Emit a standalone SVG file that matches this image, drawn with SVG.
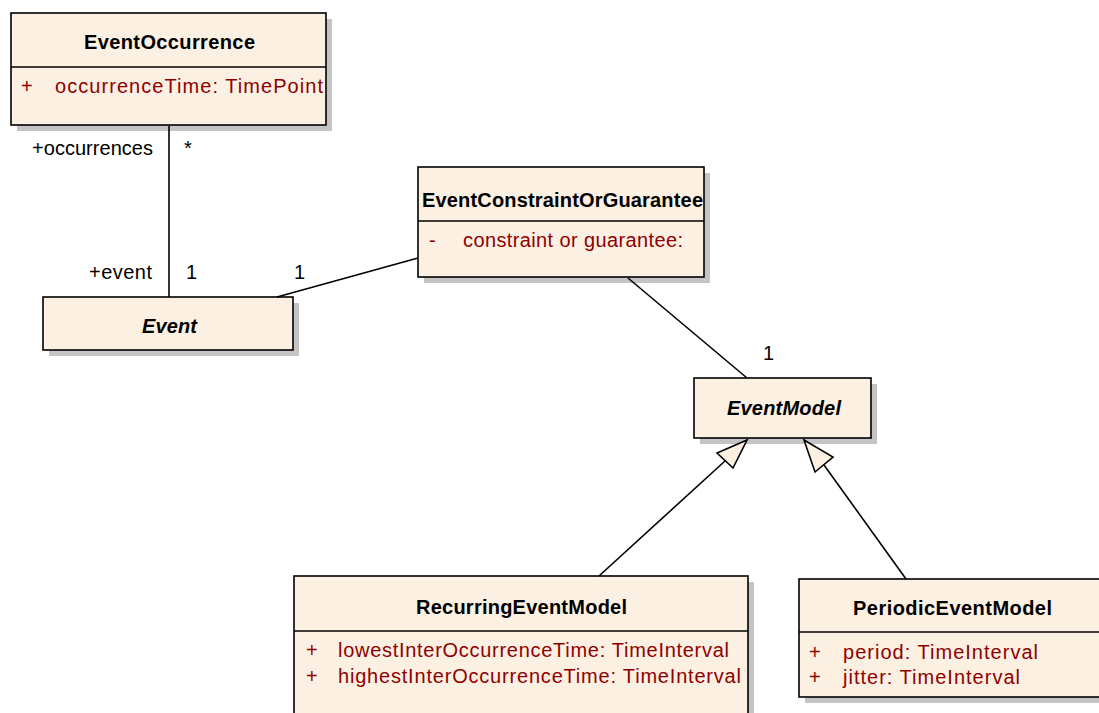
<svg xmlns="http://www.w3.org/2000/svg" width="1099" height="713" viewBox="0 0 1099 713">
<style>
.shadow{fill:#c4c4c4;}
.box{fill:#fbf0e2;stroke:#000;stroke-width:1.6;}
.div{stroke:#000;stroke-width:1.6;}
.title{font-family:"Liberation Sans",Arial,sans-serif;font-size:20px;font-weight:bold;fill:#000;}
.abs{font-style:italic;}
.attr{font-family:"Liberation Sans",Arial,sans-serif;font-size:20px;fill:#8f0000;}
.lbl{font-family:"Liberation Sans",Arial,sans-serif;font-size:20px;fill:#000;}
.edge{stroke:#000;stroke-width:1.6;fill:none;}
.gen{fill:#fbf0e2;stroke:#000;stroke-width:1.6;}
</style>
<rect width="1099" height="713" fill="#fff"/>
<g id="EventOccurrence">
<rect class="shadow" x="17" y="19" width="315" height="112"/>
<rect class="box" x="11" y="13" width="315" height="112"/>
<line class="div" x1="11" y1="67" x2="326" y2="67"/>
<text class="title" x="84" y="49" textLength="171">EventOccurrence</text>
<text class="attr" x="21" y="93">+</text>
<text class="attr" x="55" y="93" textLength="268">occurrenceTime:  TimePoint</text>
</g>
<g id="EventConstraintOrGuarantee">
<rect class="shadow" x="424" y="173" width="286" height="110"/>
<rect class="box" x="418" y="167" width="286" height="110"/>
<line class="div" x1="418" y1="221" x2="704" y2="221"/>
<text class="title" x="422" y="207" textLength="281">EventConstraintOrGuarantee</text>
<text class="attr" x="429" y="247">-</text>
<text class="attr" x="463" y="247" textLength="220">constraint or guarantee:</text>
</g>
<g id="Event">
<rect class="shadow" x="49" y="303" width="250" height="53"/>
<rect class="box" x="43" y="297" width="250" height="53"/>
<text class="title abs" x="142" y="333" textLength="55">Event</text>
</g>
<g id="EventModel">
<rect class="shadow" x="700" y="384" width="177" height="60"/>
<rect class="box" x="694" y="378" width="177" height="60"/>
<text class="title abs" x="727" y="415" textLength="114">EventModel</text>
</g>
<g id="RecurringEventModel">
<rect class="shadow" x="300" y="582" width="454" height="140"/>
<rect class="box" x="294" y="576" width="454" height="140"/>
<line class="div" x1="294" y1="631" x2="748" y2="631"/>
<text class="title" x="416" y="614" textLength="211">RecurringEventModel</text>
<text class="attr" x="306" y="657">+</text>
<text class="attr" x="338" y="657" textLength="391">lowestInterOccurrenceTime:  TimeInterval</text>
<text class="attr" x="306" y="683">+</text>
<text class="attr" x="338" y="683" textLength="403">highestInterOccurrenceTime:  TimeInterval</text>
</g>
<g id="PeriodicEventModel">
<rect class="shadow" x="805" y="585" width="310" height="118"/>
<rect class="box" x="799" y="579" width="310" height="118"/>
<line class="div" x1="799" y1="632" x2="1109" y2="632"/>
<text class="title" x="853" y="615" textLength="199">PeriodicEventModel</text>
<text class="attr" x="809" y="659">+</text>
<text class="attr" x="843" y="659" textLength="195">period:  TimeInterval</text>
<text class="attr" x="809" y="684">+</text>
<text class="attr" x="843" y="684" textLength="177">jitter:  TimeInterval</text>
</g>
<g id="connectors">
<line class="edge" x1="169" y1="126" x2="169" y2="297"/>
<line class="edge" x1="277" y1="297" x2="418" y2="258"/>
<line class="edge" x1="628" y1="278" x2="747" y2="378"/>
<line class="edge" x1="599" y1="576" x2="725" y2="461"/>
<polygon class="gen" points="747,440 717,453 733,468"/>
<line class="edge" x1="906" y1="579" x2="824" y2="465"/>
<polygon class="gen" points="804,440 833,457 815,472"/>
<text class="lbl" x="32" y="155" textLength="121">+occurrences</text>
<text class="lbl" x="184" y="155">*</text>
<text class="lbl" x="89" y="279" textLength="63">+event</text>
<text class="lbl" x="186" y="279">1</text>
<text class="lbl" x="294" y="279">1</text>
<text class="lbl" x="763" y="360">1</text>
</g>
</svg>
